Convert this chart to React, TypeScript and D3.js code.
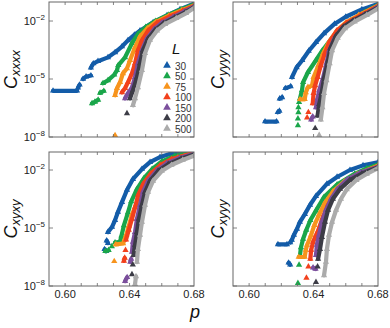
import React from "react";
import * as d3 from "d3";

type Pt = [number, number]; // [p, log10 C]
type Seg = Pt[];
type Series = Seg[];

const L_VALUES = ["30", "50", "75", "100", "150", "200", "500"];
const COLORS = ["#135ca8", "#1aa64a", "#f7941d", "#f2401c", "#7b4f9c", "#3c3c46", "#ababab"];
const X_LABELS = [0.6, 0.64, 0.68];
const X_MINOR = [0.6, 0.61, 0.62, 0.63, 0.64, 0.65, 0.66, 0.67];
const Y_TICK_EXP = [-2, -5, -8];
const P_DOMAIN: [number, number] = [0.59, 0.68];

// C_xxxx (values are log10 C)
const CXXXX: Series[] = [
  [
    [[0.5925, -5.61], [0.6074, -5.61]],
    [[0.608, -5.45], [0.609, -5.3]],
    [[0.6111, -5.0], [0.613, -4.88], [0.616, -4.82]],
    [[0.616, -4.42], [0.6175, -4.2], [0.6204, -4.08], [0.6266, -3.88], [0.631, -3.62], [0.6353, -3.32], [0.639, -3.0], [0.643, -2.72], [0.6465, -2.5], [0.6546, -2.07], [0.6632, -1.71], [0.6713, -1.4], [0.68, -1.1]],
  ],
  [
    [[0.6167, -6.26], [0.6185, -6.18], [0.6205, -6.08]],
    [[0.6217, -5.72], [0.624, -5.62]],
    [[0.6235, -5.22], [0.6266, -5.07], [0.6305, -4.78], [0.6322, -4.55], [0.633, -4.29], [0.6372, -3.88], [0.6415, -3.15], [0.6452, -2.68], [0.65, -2.32], [0.656, -2.0], [0.664, -1.68], [0.672, -1.4], [0.68, -1.15]],
  ],
  [
    [[0.631, -7.91]],
    [[0.631, -5.84], [0.6322, -5.48], [0.6341, -5.17], [0.6359, -4.71], [0.6384, -4.45], [0.6403, -4.03], [0.6434, -3.36], [0.6465, -2.8], [0.651, -2.38], [0.6565, -2.04], [0.6645, -1.72], [0.6725, -1.44], [0.68, -1.19]],
  ],
  [
    [[0.6353, -5.69], [0.6372, -5.48], [0.639, -5.17], [0.6415, -4.71], [0.6434, -4.19], [0.6452, -3.52], [0.6477, -3.0], [0.6515, -2.5], [0.657, -2.1], [0.665, -1.76], [0.673, -1.48], [0.68, -1.22]],
  ],
  [
    [[0.6372, -6.0], [0.639, -5.74], [0.6415, -5.43], [0.6434, -4.91], [0.6452, -4.19], [0.6477, -3.52], [0.6508, -2.9], [0.655, -2.45], [0.66, -2.1], [0.667, -1.8], [0.674, -1.51], [0.68, -1.26]],
  ],
  [
    [[0.6384, -6.78]],
    [[0.6403, -6.0], [0.6421, -5.59], [0.6446, -4.91], [0.6465, -4.19], [0.6483, -3.52], [0.6515, -2.92], [0.6558, -2.47], [0.661, -2.12], [0.668, -1.82], [0.6745, -1.55], [0.68, -1.29]],
  ],
  [
    [[0.6421, -6.36], [0.6434, -6.0], [0.6452, -5.43], [0.6477, -4.55], [0.6496, -3.67], [0.6527, -2.98], [0.657, -2.5], [0.662, -2.16], [0.669, -1.86], [0.675, -1.6], [0.68, -1.33]],
  ],
];

// C_yyyy
const CYYYY: Series[] = [
  [
    [[0.6099, -7.2], [0.617, -7.2]],
    [[0.6178, -6.72], [0.6188, -6.65]],
    [[0.619, -6.02], [0.6205, -5.95]],
    [[0.6225, -5.48], [0.6258, -5.38]],
    [[0.6266, -4.91], [0.6295, -4.4], [0.633, -4.03], [0.637, -3.55], [0.6415, -3.1], [0.6465, -2.64], [0.653, -2.15], [0.66, -1.78], [0.67, -1.4], [0.68, -1.12]],
  ],
  [
    [[0.6303, -7.4]], [[0.6303, -7.05]], [[0.6306, -6.73]], [[0.6306, -6.47]], [[0.631, -6.2]],
    [[0.6316, -6.0], [0.6328, -5.59], [0.6335, -5.17], [0.6365, -4.65], [0.6415, -4.03], [0.6455, -3.52], [0.651, -2.92], [0.6565, -2.4], [0.663, -1.98], [0.6715, -1.55], [0.68, -1.17]],
  ],
  [
    [[0.6316, -6.05], [0.6345, -6.05], [0.6352, -5.7], [0.6365, -5.42], [0.639, -5.35], [0.64, -4.91], [0.643, -4.3], [0.646, -3.67], [0.6495, -3.1], [0.654, -2.55], [0.66, -2.08], [0.668, -1.7], [0.68, -1.2]],
  ],
  [
    [[0.636, -7.0]], [[0.6368, -6.72]],
    [[0.6395, -6.26], [0.64, -5.74], [0.641, -5.33], [0.6425, -4.91], [0.6445, -4.3], [0.647, -3.67], [0.65, -3.05], [0.6545, -2.5], [0.6605, -2.1], [0.669, -1.72], [0.68, -1.23]],
  ],
  [
    [[0.6385, -7.1], [0.6395, -6.95]],
    [[0.6415, -6.47], [0.6425, -6.0], [0.6435, -5.59], [0.646, -4.91], [0.648, -4.19], [0.6497, -3.52], [0.653, -2.88], [0.6575, -2.4], [0.6635, -2.05], [0.671, -1.7], [0.68, -1.27]],
  ],
  [
    [[0.641, -7.55]],
    [[0.6425, -6.9], [0.6435, -6.3], [0.645, -5.74], [0.6465, -4.95], [0.649, -4.05], [0.6505, -3.4], [0.654, -2.75], [0.6585, -2.3], [0.6645, -1.98], [0.672, -1.66], [0.68, -1.31]],
  ],
  [
    [[0.6435, -7.9]],
    [[0.6445, -7.1], [0.6455, -6.47], [0.6465, -5.74], [0.648, -5.07], [0.65, -4.19], [0.6515, -3.52], [0.655, -2.88], [0.6595, -2.38], [0.6655, -2.03], [0.673, -1.7], [0.68, -1.35]],
  ],
];

// C_xyxy
const CXYXY: Series[] = [
  [
    [[0.6245, -6.1], [0.6255, -6.2]],
    [[0.6258, -5.65], [0.6266, -5.78]],
    [[0.6266, -5.21], [0.6291, -4.95], [0.631, -4.59], [0.6328, -4.17], [0.6353, -3.66], [0.6384, -3.03], [0.6421, -2.47], [0.6477, -1.95], [0.6527, -1.59], [0.6589, -1.33], [0.6651, -1.17], [0.675, -0.98]],
  ],
  [
    [[0.625, -6.2], [0.627, -6.15]],
    [[0.629, -5.95]],
    [[0.631, -5.75], [0.634, -5.72], [0.635, -5.4], [0.6365, -4.87], [0.639, -4.2], [0.641, -3.63], [0.6445, -3.0], [0.649, -2.42], [0.654, -1.95], [0.66, -1.56], [0.668, -1.27], [0.678, -1.05]],
  ],
  [
    [[0.6305, -6.72]],
    [[0.6315, -5.85], [0.636, -5.8], [0.638, -5.35], [0.6395, -4.9], [0.6415, -4.3], [0.644, -3.8], [0.647, -3.24], [0.6515, -2.6], [0.656, -2.1], [0.662, -1.68], [0.67, -1.36], [0.68, -1.1]],
  ],
  [
    [[0.6365, -6.7], [0.637, -6.55]],
    [[0.6375, -6.15]],
    [[0.6378, -5.6], [0.6395, -5.1], [0.6415, -4.53], [0.6435, -3.91], [0.6453, -3.3], [0.6485, -2.72], [0.653, -2.2], [0.659, -1.75], [0.666, -1.43], [0.68, -1.12]],
  ],
  [
    [[0.6372, -7.75], [0.6385, -7.55]],
    [[0.6405, -6.75], [0.641, -6.6]],
    [[0.6415, -6.24], [0.6421, -5.72], [0.6434, -5.21], [0.6446, -4.53], [0.6465, -3.81], [0.6483, -3.14], [0.6515, -2.56], [0.657, -2.02], [0.663, -1.66], [0.671, -1.38], [0.68, -1.16]],
  ],
  [
    [[0.6415, -7.4]], [[0.642, -6.9]],
    [[0.6425, -6.4], [0.6434, -5.88], [0.6446, -5.21], [0.6458, -4.53], [0.6477, -3.81], [0.6496, -3.14], [0.6527, -2.56], [0.6577, -2.05], [0.664, -1.7], [0.672, -1.42], [0.68, -1.2]],
  ],
  [
    [[0.6434, -7.9], [0.644, -7.5]],
    [[0.6446, -6.76], [0.6452, -6.09], [0.6465, -5.36], [0.6477, -4.69], [0.6496, -3.81], [0.6515, -3.14], [0.6546, -2.56], [0.66, -2.05], [0.666, -1.74], [0.673, -1.48], [0.68, -1.26]],
  ],
];

// C_xyyy
const CXYYY: Series[] = [
  [
    [[0.6179, -5.85], [0.6235, -5.85]],
    [[0.6245, -6.8], [0.6255, -6.9]],
    [[0.6255, -5.75], [0.6265, -5.62], [0.6278, -5.36], [0.6297, -5.05], [0.6315, -4.69], [0.6346, -4.28], [0.6378, -3.81], [0.6415, -3.35], [0.6483, -2.72], [0.6546, -2.36], [0.6626, -2.0], [0.6707, -1.76], [0.68, -1.6]],
  ],
  [
    [[0.6303, -7.85]], [[0.631, -6.91]],
    [[0.6316, -6.4], [0.6322, -6.0], [0.6335, -5.57], [0.6355, -5.1], [0.638, -4.6], [0.6415, -4.1], [0.6465, -3.4], [0.6546, -2.75], [0.6655, -2.2], [0.673, -1.92], [0.68, -1.72]],
  ],
  [
    [[0.6308, -6.5], [0.6345, -6.5], [0.6352, -6.14], [0.636, -5.88], [0.6385, -5.36], [0.6405, -4.85], [0.6435, -4.3], [0.647, -3.7], [0.652, -3.12], [0.659, -2.6], [0.667, -2.22], [0.68, -1.78]],
  ],
  [
    [[0.6356, -7.58]], [[0.6368, -7.0]],
    [[0.638, -6.6], [0.6385, -6.14], [0.6397, -5.72], [0.6425, -5.2], [0.6455, -4.5], [0.649, -3.8], [0.6545, -3.1], [0.661, -2.58], [0.669, -2.18], [0.68, -1.82]],
  ],
  [
    [[0.6397, -7.05], [0.6412, -7.12]],
    [[0.6415, -6.4], [0.6421, -5.88], [0.6434, -5.36], [0.6452, -4.69], [0.6477, -4.07], [0.6508, -3.5], [0.6546, -3.0], [0.661, -2.48], [0.669, -2.13], [0.68, -1.84]],
  ],
  [
    [[0.6415, -7.8]], [[0.6425, -7.0]],
    [[0.6428, -6.6], [0.644, -6.09], [0.6452, -5.47], [0.6471, -4.69], [0.649, -4.07], [0.652, -3.5], [0.6564, -2.98], [0.6625, -2.52], [0.67, -2.18], [0.68, -1.87]],
  ],
  [
    [[0.6465, -7.45], [0.6477, -6.76], [0.6483, -6.09], [0.6496, -5.36], [0.6515, -4.69], [0.654, -4.07], [0.657, -3.5], [0.6606, -3.0], [0.6666, -2.52], [0.673, -2.2], [0.68, -1.9]],
  ],
];

const FONT = "'Liberation Sans', Arial, Helvetica, sans-serif";
const FRAME = "#666";

type PanelProps = {
  id: string;
  x0: number;
  y0: number;
  w: number;
  h: number;
  data: Series[];
  sub: string;
  xLabels: boolean;
  yLabels: boolean;
  titleX: number;
};

function Panel({ id, x0, y0, w, h, data, sub, xLabels, yLabels, titleX }: PanelProps) {
  const topExp = -8 + h / 19.33;
  const x = d3.scaleLinear().domain(P_DOMAIN).range([x0, x0 + w]);
  const y = d3.scaleLog().domain([1e-8, Math.pow(10, topExp)]).range([y0 + h, y0]);
  const line = d3
    .line<Pt>()
    .x((d) => x(d[0]))
    .y((d) => y(Math.pow(10, d[1])));
  const tri = d3.symbol().type(d3.symbolTriangle).size(17)() || "";
  const tl = 3;
  return (
    <g>
      <defs>
        <clipPath id={id}>
          <rect x={x0} y={y0} width={w} height={h} />
        </clipPath>
      </defs>
      <g clipPath={`url(#${id})`}>
        {data.map((series, si) => (
          <g key={si} fill={COLORS[si]} stroke={COLORS[si]}>
            {series.map((seg, gi) =>
              seg.length > 1 ? (
                <path
                  key={"l" + gi}
                  d={line(seg) || ""}
                  fill="none"
                  strokeWidth={4.2}
                  strokeLinejoin="round"
                  strokeLinecap="round"
                />
              ) : null
            )}
            {series.map((seg, gi) =>
              seg.map((pt, pi) => (
                <path
                  key={gi + "-" + pi}
                  d={tri}
                  stroke="none"
                  transform={`translate(${x(pt[0])},${y(Math.pow(10, pt[1]))})`}
                />
              ))
            )}
          </g>
        ))}
      </g>
      <rect x={x0} y={y0} width={w} height={h} fill="none" stroke={FRAME} strokeWidth={1} />
      {X_MINOR.map((v) => (
        <g key={"xt" + v} stroke={FRAME} strokeWidth={0.8}>
          <line x1={x(v)} x2={x(v)} y1={y0 + h} y2={y0 + h - tl} />
          <line x1={x(v)} x2={x(v)} y1={y0} y2={y0 + tl} />
        </g>
      ))}
      {Y_TICK_EXP.map((e) => (
        <g key={"yt" + e} stroke={FRAME} strokeWidth={0.8}>
          <line x1={x0} x2={x0 + tl + 1} y1={y(Math.pow(10, e))} y2={y(Math.pow(10, e))} />
          <line x1={x0 + w} x2={x0 + w - tl - 1} y1={y(Math.pow(10, e))} y2={y(Math.pow(10, e))} />
        </g>
      ))}
      {yLabels &&
        Y_TICK_EXP.map((e) => (
          <text
            key={"yl" + e}
            x={x0 - 4}
            y={y(Math.pow(10, e)) + 4}
            textAnchor="end"
            fontFamily={FONT}
            fontSize={11}
            fill="#222"
          >
            10
            <tspan dy={-5} fontSize={8}>
              {"\u2212" + Math.abs(e)}
            </tspan>
          </text>
        ))}
      {xLabels &&
        X_LABELS.map((v) => (
          <text
            key={"xl" + v}
            x={x(v)}
            y={y0 + h + 12}
            textAnchor="middle"
            fontFamily={FONT}
            fontSize={11}
            fill="#222"
          >
            {v.toFixed(2)}
          </text>
        ))}
      <text
        transform={`translate(${titleX},${y0 + h / 2}) rotate(-90)`}
        textAnchor="middle"
        fontFamily={FONT}
        fontStyle="italic"
        fill="#111"
      >
        <tspan fontSize={18}>C</tspan>
        <tspan fontSize={13} dy={3}>
          {sub}
        </tspan>
      </text>
    </g>
  );
}

function Legend({ x0, y0 }: { x0: number; y0: number }) {
  const tri = d3.symbol().type(d3.symbolTriangle).size(26)() || "";
  const yPos = d3.scalePoint<string>().domain(L_VALUES).range([y0 + 12, y0 + 75]);
  return (
    <g>
      <text x={x0 + 1} y={y0} fontFamily={FONT} fontStyle="italic" fontSize={15} fill="#111">
        L
      </text>
      {L_VALUES.map((l, i) => (
        <g key={l}>
          <path d={tri} fill={COLORS[i]} transform={`translate(${x0 - 4},${(yPos(l) || 0) - 0.5})`} />
          <text x={x0 + 4} y={(yPos(l) || 0) + 3.5} fontFamily={FONT} fontSize={10} fill="#333">
            {l}
          </text>
        </g>
      ))}
    </g>
  );
}

export default function App() {
  return (
    <svg width={390} height={328} style={{ position: "absolute", left: 0, top: 0 }}>
      <rect width={390} height={328} fill="#fff" />
      <Panel id="c1" x0={49} y0={2} w={145} h={135} data={CXXXX} sub="xxxx" xLabels={false} yLabels={true} titleX={17} />
      <Panel id="c2" x0={233} y0={2} w={145} h={135} data={CYYYY} sub="yyyy" xLabels={false} yLabels={false} titleX={224} />
      <Panel id="c3" x0={49} y0={152} w={145} h={134} data={CXYXY} sub="xyxy" xLabels={true} yLabels={true} titleX={17} />
      <Panel id="c4" x0={233} y0={152} w={145} h={134} data={CXYYY} sub="xyyy" xLabels={true} yLabels={false} titleX={224} />
      <Legend x0={171} y0={54} />
      <text x={195} y={318} textAnchor="middle" fontFamily={FONT} fontStyle="italic" fontSize={18} fill="#111">
        p
      </text>
    </svg>
  );
}
